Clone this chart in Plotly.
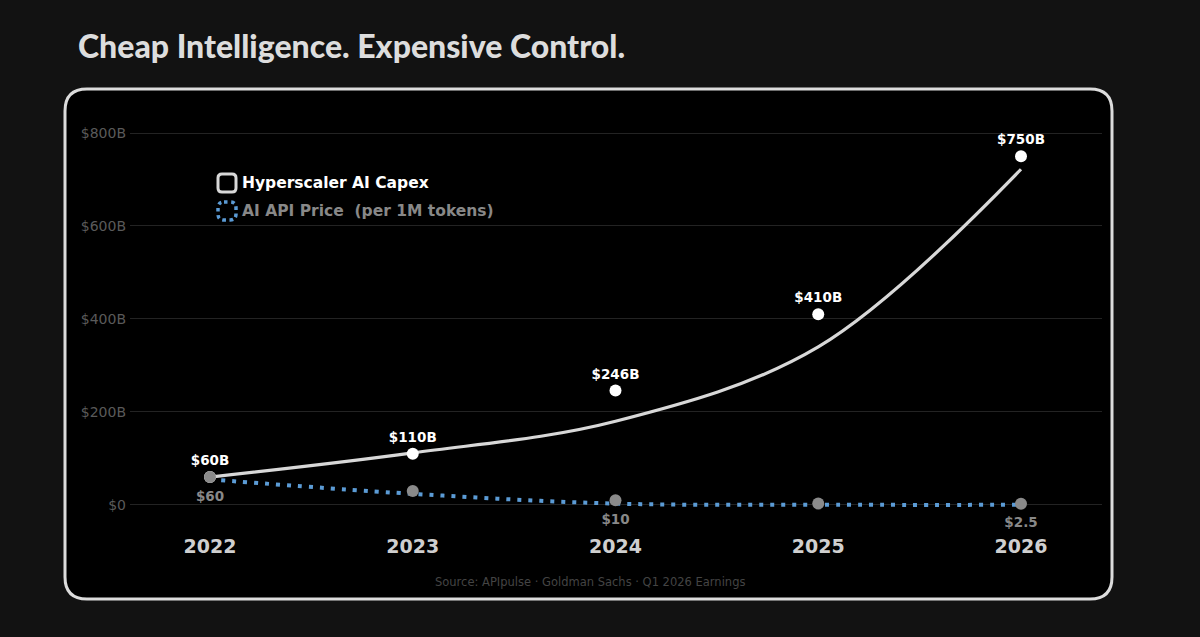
import plotly.graph_objects as go

# ---- data ----
years = [2022, 2023, 2024, 2025, 2026]
capex = [60, 110, 246, 410, 750]                # $B
capex_labels = ["$60B", "$110B", "$246B", "$410B", "$750B"]
capex_trend = [60, 112, 180, 340, 722]          # smoothed curve as drawn
price = [60, 30, 10, 3, 2.5]                    # $ per 1M tokens
price_labels = ["$60", "", "$10", "", "$2.5"]
price_trend = [55, 24, 3, 0.5, 0.3]
y_ticks = [0, 200, 400, 600, 800]
y_ticktext = ["$0", "$200B", "$400B", "$600B", "$800B"]

W, H = 1200, 637
ML, MR, MT, MB = 130, 98, 119, 113
PW, PH = W - ML - MR, H - MT - MB

def px(x):
    return (x - ML) / PW

def py(y):
    return (H - MB - y) / PH

def rounded_rect(x0, y0, x1, y1, r):
    return (f"M {px(x0+r)} {py(y0)} L {px(x1-r)} {py(y0)} Q {px(x1)} {py(y0)} {px(x1)} {py(y0+r)} "
            f"L {px(x1)} {py(y1-r)} Q {px(x1)} {py(y1)} {px(x1-r)} {py(y1)} "
            f"L {px(x0+r)} {py(y1)} Q {px(x0)} {py(y1)} {px(x0)} {py(y1-r)} "
            f"L {px(x0)} {py(y0+r)} Q {px(x0)} {py(y0)} {px(x0+r)} {py(y0)} Z")

fig = go.Figure()

fig.add_trace(go.Scatter(x=years, y=capex_trend, mode="lines",
                         line=dict(color="#d8d8d8", width=3.2, shape="spline", smoothing=1.0),
                         hoverinfo="skip", showlegend=False))
fig.add_trace(go.Scatter(x=years, y=price_trend, mode="lines",
                         line=dict(color="#5b9bd5", width=4, dash="4px,7px", shape="spline", smoothing=1.0),
                         hoverinfo="skip", showlegend=False))
fig.add_trace(go.Scatter(x=years, y=capex, mode="markers+text", text=capex_labels,
                         textposition="top center", cliponaxis=False,
                         textfont=dict(family="DejaVu Sans", size=13.5, color="#ffffff", weight="bold"),
                         marker=dict(color="#ffffff", size=12),
                         showlegend=False))
fig.add_trace(go.Scatter(x=years, y=price, mode="markers", cliponaxis=False,
                         marker=dict(color="#8a8a8a", size=12),
                         showlegend=False))
# price labels (invisible larger marker gives the label offset)
fig.add_trace(go.Scatter(x=years, y=price, mode="markers+text", text=price_labels,
                         textposition="bottom center", cliponaxis=False,
                         textfont=dict(family="DejaVu Sans", size=13.5, color="#888888", weight="bold"),
                         marker=dict(color="rgba(0,0,0,0)", size=20),
                         hoverinfo="skip", showlegend=False))

shapes = [
    dict(type="path", xref="paper", yref="paper", layer="below",
         path=rounded_rect(65, 89, 1112, 599, 22),
         fillcolor="#000000", line=dict(color="#dcdcdc", width=3)),
    dict(type="path", xref="paper", yref="paper",
         path=rounded_rect(218, 174, 236, 192, 4),
         fillcolor="rgba(0,0,0,0)", line=dict(color="#d8d8d8", width=3)),
    dict(type="path", xref="paper", yref="paper",
         path=rounded_rect(218, 202, 236, 220, 6),
         fillcolor="rgba(0,0,0,0)", line=dict(color="#5b9bd5", width=3.5, dash="dot")),
]

annotations = [
    dict(text="Cheap Intelligence. Expensive Control.", xref="paper", yref="paper",
         x=px(76), y=py(45), xanchor="left", yanchor="middle", showarrow=False,
         font=dict(family="Lato Black, Lato", size=32, color="#dddddd", weight=900)),
    dict(text="Hyperscaler AI Capex", xref="paper", yref="paper",
         x=px(240), y=py(183), xanchor="left", yanchor="middle", showarrow=False,
         font=dict(family="DejaVu Sans", size=15.5, color="#ffffff", weight="bold")),
    dict(text="AI API Price  (per 1M tokens)", xref="paper", yref="paper",
         x=px(240), y=py(211), xanchor="left", yanchor="middle", showarrow=False,
         font=dict(family="DejaVu Sans", size=15.5, color="#888888", weight="bold")),
    dict(text="Source: APIpulse · Goldman Sachs · Q1 2026 Earnings", xref="paper", yref="paper",
         x=px(590), y=py(582), xanchor="center", yanchor="middle", showarrow=False,
         font=dict(family="DejaVu Sans", size=11.5, color="#444444")),
]

fig.update_layout(
    width=W, height=H, autosize=False,
    margin=dict(l=ML, r=MR, t=MT, b=MB, pad=0),
    paper_bgcolor="#121212", plot_bgcolor="rgba(0,0,0,0)",
    shapes=shapes, annotations=annotations, showlegend=False,
    xaxis=dict(range=[2021.6054, 2026.3995], tickvals=years, ticktext=[str(y) for y in years],
               showgrid=False, zeroline=False, showline=False, ticks="",
               ticklabelstandoff=9,
               tickfont=dict(family="DejaVu Sans", size=19, color="#cfcfcf", weight="bold")),
    yaxis=dict(range=[-40.9, 830.1], tickvals=y_ticks, ticktext=y_ticktext,
               showgrid=True, gridcolor="#232323", gridwidth=1, zeroline=False, showline=False,
               ticks="", ticklabelstandoff=3,
               tickfont=dict(family="DejaVu Sans", size=14, color="#5a5a5a")),
)

fig.write_html("out.html")
